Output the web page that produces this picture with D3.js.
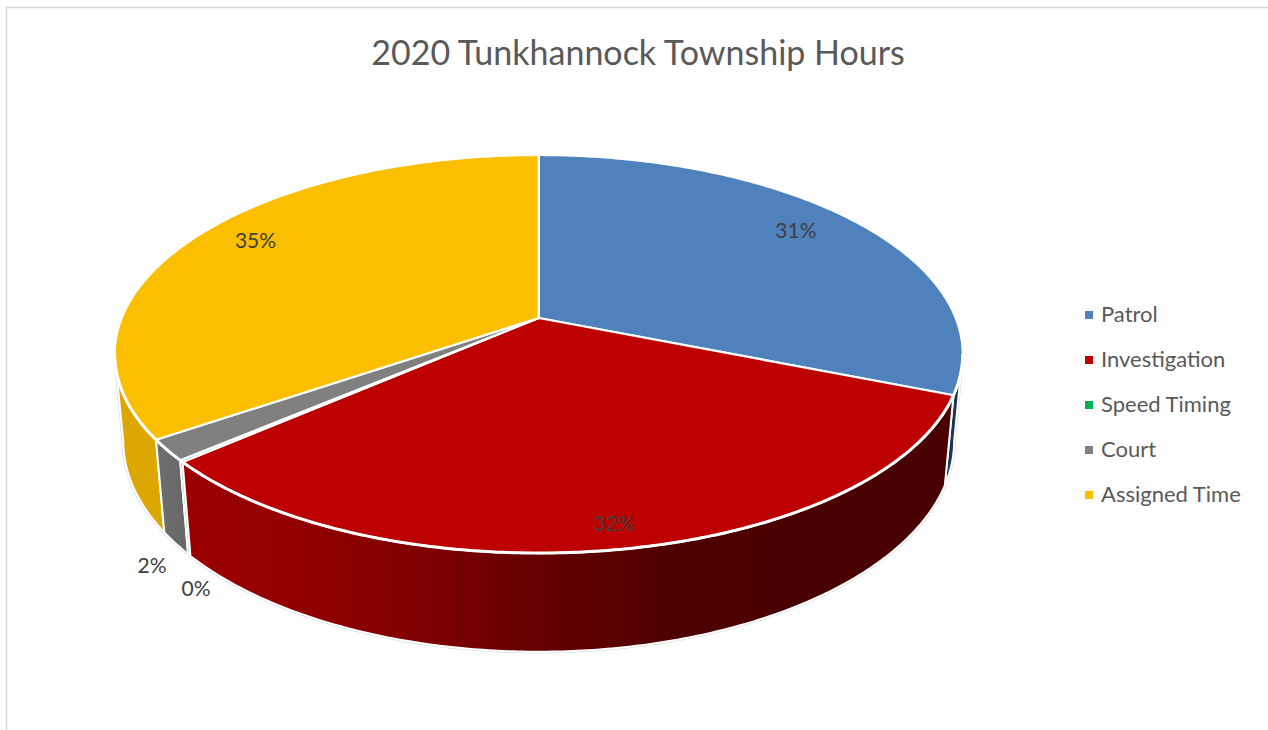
<!DOCTYPE html>
<html>
<head>
<meta charset="utf-8">
<script src="https://cdn.jsdelivr.net/npm/d3@7"></script>
<style>html,body{margin:0;padding:0;background:#fff}svg{display:block}text{font-family:Lato,"Open Sans",sans-serif}</style>
</head>
<body>
<svg id="chart" width="1268" height="730"></svg>
<script>
const chartTitle = "2020 Tunkhannock Township Hours";
const categories = ["Patrol", "Investigation", "Speed Timing", "Court", "Assigned Time"];
const shares = [0.311, 0.3245, 0.0015, 0.017, 0.346];
const topColors = ["#4f81bd", "#bd0000", "#00b050", "#808080", "#fcbf00"];

// perspective camera for the tilted disc
const cam = {x0: 538.7, y0: 318, A: 417, B: 192.5, D: 87.5, k: 0.181, c: 0.02};
function project(angle, r, z) {
  const u = r * Math.sin(angle), v = -r * Math.cos(angle);
  const w = 1 - cam.k * v + cam.c * z;
  return [cam.x0 + cam.A * u / w, cam.y0 + (cam.B * v + cam.D * z) / w];
}

const svg = d3.select("#chart");
const line = d3.line();
const pie = d3.pie().sort(null).value(d => d)(shares);
const samples = (a, b) => { const n = Math.max(2, Math.ceil((b - a) / 0.01)); return d3.range(n + 1).map(i => a + (b - a) * i / n); };

// frame
svg.append("path").attr("d", "M6.5,730V7.5H1268").attr("fill", "none").attr("stroke", "#d9d9d9").attr("stroke-width", 1.5);

// wall gradients
const defs = svg.append("defs");
const wallStops = [
  [[0, "#1c3654"], [1, "#1c3654"]],
  [[0, "#9c0000"], [0.15, "#920000"], [0.3, "#800000"], [0.47, "#640000"], [0.65, "#4d0000"], [1, "#480000"]],
  [[0, "#008050"], [1, "#008050"]],
  [[0, "#6e6e6e"], [1, "#666666"]],
  [[0, "#dca800"], [1, "#dba700"]]
];
const gradRange = [[900, 960], [185, 950], [180, 195], [155, 195], [115, 170]];
wallStops.forEach((stops, i) => {
  const g = defs.append("linearGradient").attr("id", "wall" + i).attr("gradientUnits", "userSpaceOnUse")
    .attr("x1", gradRange[i][0]).attr("x2", gradRange[i][1]).attr("y1", 0).attr("y2", 0);
  stops.forEach(s => g.append("stop").attr("offset", s[0]).attr("stop-color", s[1]));
});

// the wall is visible between the two tangent angles of the perspective ellipse
const tangent = Math.acos(-cam.k);
const wallVisible = [tangent, 2 * Math.PI - tangent];

// faint outer outline of the wall
const rimAngles = samples(wallVisible[0], wallVisible[1]);
const outline = [project(wallVisible[0], 1, 0)].concat(rimAngles.map(a => project(a, 1, 1)), [project(wallVisible[1], 1, 0)]);
svg.append("path").attr("d", line(outline)).attr("fill", "none").attr("stroke", "#d4d4d4").attr("stroke-width", 3);

// walls, back to front
[0, 4, 3, 2, 1].forEach(i => {
  const p = pie[i];
  const a0 = Math.max(p.startAngle, wallVisible[0]), a1 = Math.min(p.endAngle, wallVisible[1]);
  if (a1 <= a0) return;
  const ang = samples(a0, a1);
  const pts = ang.map(a => project(a, 1, 0)).concat(ang.slice().reverse().map(a => project(a, 1, 1)));
  svg.append("path").attr("d", line(pts) + "Z").attr("fill", `url(#wall${i})`)
    .attr("stroke", "#fff").attr("stroke-width", 2).attr("stroke-linejoin", "round");
});

// top face
pie.forEach((p, i) => {
  const pts = [project(0, 0, 0)].concat(samples(p.startAngle, p.endAngle).map(a => project(a, 1, 0)));
  svg.append("path").attr("d", line(pts) + "Z").attr("fill", topColors[i])
    .attr("stroke", "#fff").attr("stroke-width", 2.2).attr("stroke-linejoin", "round");
});

// heavier white rim along the front edge of the top face
svg.append("path").attr("d", line(rimAngles.map(a => project(a, 1, 0)))).attr("fill", "none")
  .attr("stroke", "#fff").attr("stroke-width", 3);

// data labels
const pct = d3.format(".0%");
const labelRadius = [0.805, 0.905, 0.99, 1.06, 0.82];
const labelDepth = [0, 0, 1.38, 1.13, 0];
const labelNudge = [-8, 0, 0, 0, -10];
pie.forEach((p, i) => {
  const m = (p.startAngle + p.endAngle) / 2;
  const [x, y] = project(m, labelRadius[i], labelDepth[i]);
  svg.append("text").attr("x", x).attr("y", y + labelNudge[i]).attr("text-anchor", "middle").attr("dominant-baseline", "central")
    .attr("font-size", 21).attr("fill", "#404040").text(pct(shares[i]));
});

// title
svg.append("text").attr("x", 638).attr("y", 51).attr("text-anchor", "middle").attr("dominant-baseline", "central")
  .attr("font-size", 34).attr("fill", "#595959").text(chartTitle);

// legend
const legendY = d3.scalePoint().domain(categories).range([315, 495]);
categories.forEach((c, i) => {
  svg.append("rect").attr("x", 1085).attr("y", legendY(c) - 4).attr("width", 8).attr("height", 8).attr("fill", topColors[i]);
  svg.append("text").attr("x", 1101).attr("y", legendY(c) - 1.5).attr("dominant-baseline", "central")
    .attr("font-size", 22).attr("fill", "#595959").text(c);
});
</script>
</body>
</html>
